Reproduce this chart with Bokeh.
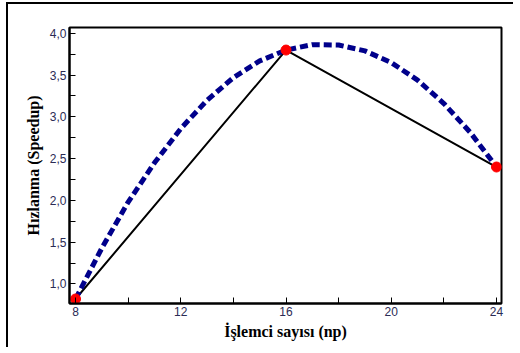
from bokeh.plotting import figure
from bokeh.models import FixedTicker, Range1d
from bokeh.embed import file_html
from bokeh.resources import INLINE

# Measured data
np_values = [8, 16, 24]
speedup = [0.82, 3.8, 2.4]

# Trend curve (dashed blue)
curve_x = [8, 9, 10, 11, 12, 13, 14, 15, 16, 17, 18, 19, 20, 21, 22, 23, 24]
curve_y = [0.82, 1.43, 1.98, 2.45, 2.86, 3.20, 3.47, 3.67, 3.80, 3.865, 3.86,
           3.79, 3.65, 3.44, 3.16, 2.815, 2.40]

x_ticks = [8, 12, 16, 20, 24]
x_minor = [10, 14, 18, 22]
y_ticks = [1.0, 1.5, 2.0, 2.5, 3.0, 3.5, 4.0]
y_minor = [0.75, 1.25, 1.75, 2.25, 2.75, 3.25, 3.75]
y_labels = ["1,0", "1,5", "2,0", "2,5", "3,0", "3,5", "4,0"]

p = figure(width=507, height=345, output_backend="svg", toolbar_location=None,
           x_range=Range1d(7.77, 24.19), y_range=Range1d(0.766, 4.07),
           min_border_left=61, min_border_right=14, min_border_top=23,
           min_border_bottom=46)
p.styles = {"border-left": "2px solid #000", "border-top": "2px solid #000",
            "margin-left": "6px", "margin-top": "2px"}

p.grid.visible = False
p.outline_line_color = "black"
p.outline_line_width = 2
p.background_fill_color = "white"
p.border_fill_color = "white"

p.line(np_values, speedup, line_color="black", line_width=2)
p.line(curve_x, curve_y, line_color="#00008b", line_width=5, line_dash="8 4")
p.scatter(np_values, speedup, size=10, fill_color="red", line_color="red")

p.xaxis.ticker = FixedTicker(ticks=x_ticks, minor_ticks=x_minor)
p.yaxis.ticker = FixedTicker(ticks=y_ticks, minor_ticks=y_minor)
p.yaxis.major_label_overrides = {t: l for t, l in zip(y_ticks, y_labels)}

for ax in (p.xaxis, p.yaxis):
    ax.axis_line_width = 2
    ax.axis_line_color = "black"
    ax.major_tick_in = 6
    ax.major_tick_out = 0
    ax.minor_tick_in = 6
    ax.minor_tick_out = 0
    ax.major_tick_line_width = 1
    ax.minor_tick_line_width = 1
    ax.major_label_text_font = "Liberation Sans"
    ax.major_label_text_font_size = "12px"
    ax.major_label_text_color = "#2b2b55"
    ax.major_label_standoff = 3
    ax.axis_label_text_font = "Liberation Serif"
    ax.axis_label_text_font_style = "bold"
    ax.axis_label_text_font_size = "16px"
    ax.axis_label_text_color = "black"

p.xaxis.axis_label = "İşlemci sayısı (np)"
p.yaxis.axis_label = "Hızlanma (Speedup)"
p.xaxis.axis_label_standoff = 4
p.yaxis.axis_label_standoff = 5

open("out.html", "w").write(file_html(p, INLINE))
